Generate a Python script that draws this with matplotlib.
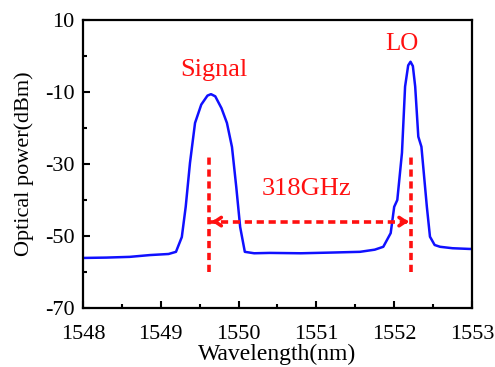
import matplotlib
matplotlib.use("Agg")
import matplotlib.pyplot as plt

plt.rcParams['font.family'] = ['Liberation Serif', 'DejaVu Serif']
plt.rcParams['axes.unicode_minus'] = False

# spectrum (wavelength nm, power dBm)
wavelength = [1548.0, 1548.3, 1548.6, 1548.86, 1549.1, 1549.195, 1549.27, 1549.32,
              1549.375, 1549.44, 1549.52, 1549.6, 1549.645, 1549.7, 1549.78, 1549.85,
              1549.915, 1549.97, 1550.02, 1550.08, 1550.2, 1550.4, 1550.8, 1551.2,
              1551.56, 1551.75, 1551.86, 1551.955, 1552.0, 1552.04, 1552.1, 1552.14,
              1552.18, 1552.21, 1552.24, 1552.27, 1552.31, 1552.35, 1552.42, 1552.46,
              1552.52, 1552.59, 1552.75, 1552.97, 1553.0]
power = [-56.1, -56.0, -55.8, -55.3, -55.0, -54.4, -50.3, -41.9,
         -29.7, -18.6, -13.5, -11.0, -10.6, -11.2, -14.5, -18.6,
         -25.3, -36.4, -47.5, -54.4, -54.8, -54.7, -54.8, -54.6,
         -54.4, -53.8, -53.0, -49.2, -41.9, -40.0, -26.9, -8.5,
         -2.6, -1.6, -2.8, -8.5, -22.4, -25.2, -41.9, -50.2,
         -52.5, -53.0, -53.4, -53.6, -53.6]

signal_wl = 1549.62
lo_wl = 1552.22
arrow_level = -46
marker_top = -28
marker_bottom = -60

fig = plt.figure(figsize=(4.95, 3.67), dpi=100)
ax = fig.add_axes([0.1677, 0.1608, 0.7858, 0.7847])

ax.plot(wavelength, power, color='#1010ff', lw=1.8)

red = '#ff1010'
dash = (0, (2.0, 1.3))
for wl in (signal_wl, lo_wl):
    ax.plot([wl, wl], [marker_bottom, marker_top], color=red, lw=2.6, linestyle=dash)
ax.plot([signal_wl, lo_wl], [arrow_level, arrow_level], color=red, lw=2.6, linestyle=dash)
# arrow heads
ax.annotate('', xy=(signal_wl, arrow_level), xytext=(signal_wl + 0.12, arrow_level),
            arrowprops=dict(arrowstyle='->,head_length=0.45,head_width=0.3', color=red, lw=2.6))
ax.annotate('', xy=(lo_wl, arrow_level), xytext=(lo_wl - 0.12, arrow_level),
            arrowprops=dict(arrowstyle='->,head_length=0.45,head_width=0.3', color=red, lw=2.6))

ax.text(1549.68, -4, 'Signal', color=red, fontsize=19, ha='center', va='center')
ax.text(1552.1, 3.3, 'LO', color=red, fontsize=18, ha='center', va='center')
ax.text(1550.88, -37, '318GHz', color=red, fontsize=19, ha='center', va='center')

ax.set_xlim(1548, 1553)
ax.set_ylim(-70, 10)
ax.set_xticks([1548, 1549, 1550, 1551, 1552, 1553])
ax.set_yticks([-70, -50, -30, -10, 10])
ax.set_xticks([1548.5, 1549.5, 1550.5, 1551.5, 1552.5], minor=True)
ax.set_yticks([-60, -40, -20, 0], minor=True)
ax.tick_params(which='both', direction='in', width=1.5, labelsize=16)
ax.tick_params(which='major', length=5)
ax.tick_params(which='minor', length=3)
ax.tick_params(axis='y', pad=6)
ax.tick_params(axis='x', pad=12)
for s in ax.spines.values():
    s.set_linewidth(1.6)

ax.set_xlabel('Wavelength(nm)', fontsize=17, labelpad=0)
ax.set_ylabel('Optical power(dBm)', fontsize=16, labelpad=8)

fig.savefig('out.png', dpi=100)
